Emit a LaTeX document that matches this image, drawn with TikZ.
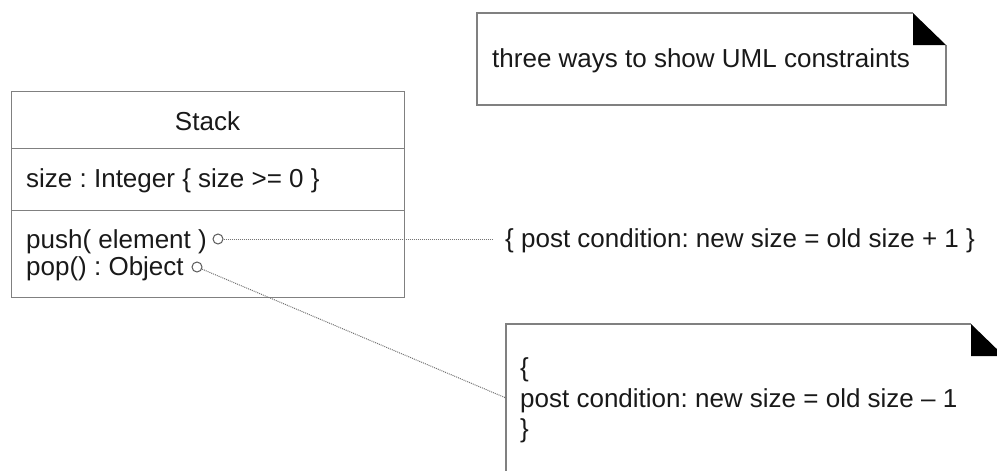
\documentclass[tikz,border=0pt]{standalone}
\usepackage{fontspec}
\setmainfont{Liberation Sans}
\frenchspacing
\begin{document}
\begin{tikzpicture}[x=1pt,y=-1pt,
  every node/.style={font=\fontsize{26}{30}\selectfont, text=black!90, inner sep=0pt},
  txt/.style={anchor=base west},
  box/.style={draw=black!50, line width=1.3pt},
  compart/.style={box, anchor=north west, minimum width=393pt},
  port/.style={circle, draw=black!65, line width=1pt, minimum size=10pt, inner sep=0pt, fill=white},
  dotline/.style={draw=black!55, line width=1pt, dash pattern=on 1pt off 1pt},
  fold/.style={fill=black}]
\useasboundingbox (0,0) rectangle (997,471);
\clip (0,0) rectangle (997,471);

% class Stack
\node[compart, minimum height=57pt] (name) at (11,91) {};
\node[compart, minimum height=62pt] (attrs) at (11,148) {};
\node[compart, minimum height=87pt] (ops) at (11,210) {};
\node[anchor=base] (stacklbl) at (207.5,130) {Stack};
\node[txt] (attr) at (26,187) {size : Integer \{ size >= 0 \}};
\node[txt] (push) at (26,248) {push( element )};
\node[txt] (pop) at (26,275) {pop() : Object};
\node[port] (pushc) at (218,239) {};
\node[port] (popc) at (197,267) {};

% note 1
\coordinate (n1a) at (477,13);
\coordinate (n1b) at (913,13);
\coordinate (n1c) at (946,45);
\coordinate (n1d) at (946,105);
\coordinate (n1e) at (477,105);
\draw[box] (n1b) -- (n1a) -- (n1e) -- (n1d) -- (n1c);
\fill[fold] (n1b) -- (n1c) -- (913,45) -- cycle;
\node[txt] (note1) at (492,67) {three ways to show UML constraints};

% constraint text
\node[txt] (post1) at (505,247) {\{ post condition: new size = old size + 1 \}};
\coordinate (post1end) at (492,239);
\draw[dotline] (pushc) -- (post1end);

% note 2
\coordinate (n2a) at (506,324);
\coordinate (n2b) at (971,324);
\coordinate (n2c) at (1004,356);
\coordinate (n2d) at (1004,520);
\coordinate (n2e) at (506,520);
\draw[box] (n2b) -- (n2a) -- (n2e) -- (n2d) -- (n2c);
\fill[fold] (n2b) -- (n2c) -- (971,356) -- cycle;
\node[txt] (note2a) at (520,376) {\{};
\node[txt] (note2b) at (520,407) {post condition: new size = old size – 1};
\node[txt] (note2c) at (520,437) {\}};
\coordinate (n2in) at (506,398);
\draw[dotline] (popc) -- (n2in);
\end{tikzpicture}
\end{document}
